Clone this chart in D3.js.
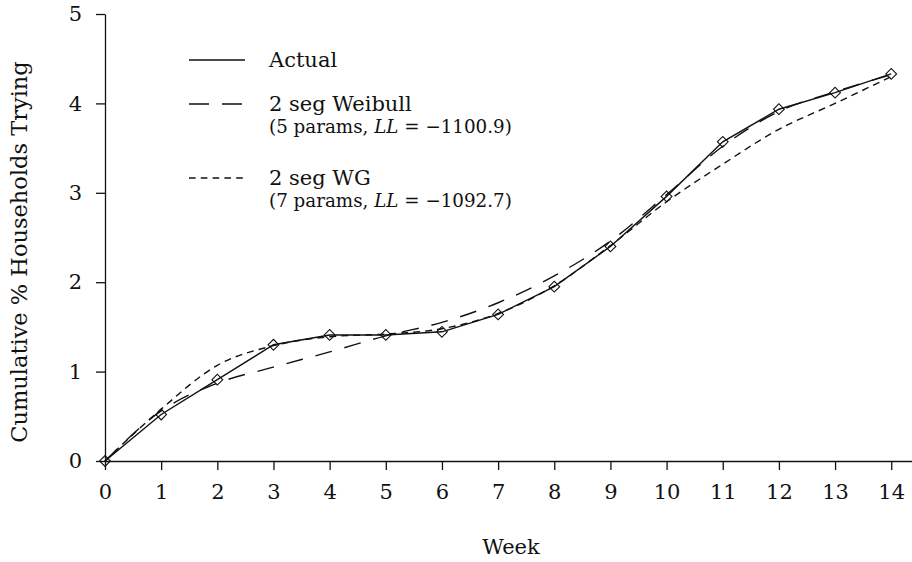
<!DOCTYPE html>
<html>
<head>
<meta charset="utf-8">
<script src="https://cdn.jsdelivr.net/npm/d3@7"></script>
<style>
  html, body { margin: 0; padding: 0; background: #fff; }
  svg { display: block; }
  text { font-family: "DejaVu Serif", serif; fill: #111; }
</style>
</head>
<body>
<svg id="chart" width="912" height="562"></svg>
<script>
// Cumulative trial curve: observed weekly values and two fitted models
const weeks   = [0, 1, 2, 3, 4, 5, 6, 7, 8, 9, 10, 11, 12, 13, 14];
const actual  = [0, 0.52, 0.91, 1.30, 1.41, 1.41, 1.445, 1.64, 1.95, 2.40, 2.96, 3.57, 3.935, 4.12, 4.33];
const weibull = [0, 0.56, 0.87, 1.05, 1.22, 1.40, 1.55, 1.77, 2.07, 2.46, 2.98, 3.52, 3.91, 4.13, 4.32];
const wg      = [0, 0.58, 1.07, 1.29, 1.39, 1.42, 1.48, 1.65, 1.96, 2.41, 2.90, 3.32, 3.71, 4.00, 4.30];

const xTicks = [0, 1, 2, 3, 4, 5, 6, 7, 8, 9, 10, 11, 12, 13, 14];
const yTicks = [0, 1, 2, 3, 4, 5];

const legendItems = [
  { label: "Actual", note: null, dash: null },
  { label: "2 seg Weibull", note: ["(5 params, ", "LL", " = −1100.9)"], dash: "20,13" },
  { label: "2 seg WG", note: ["(7 params, ", "LL", " = −1092.7)"], dash: "6.6,5.2" }
];

const svg = d3.select("#chart");

const x = d3.scaleLinear().domain([0, 14.37]).range([105, 912]);
const y = d3.scaleLinear().domain([0, 5]).range([461, 14]);

const axisStyle = g => {
  g.selectAll("path, line").attr("stroke", "#111").attr("stroke-width", 1.3);
  g.selectAll("text").attr("font-family", "DejaVu Serif").attr("font-size", 21).attr("fill", "#111");
};

svg.append("g")
  .attr("transform", `translate(0,${y(0)})`)
  .call(d3.axisBottom(x).tickValues(xTicks).tickFormat(d3.format("d"))
    .tickSize(9).tickSizeOuter(0).tickPadding(14))
  .call(axisStyle);

svg.append("g")
  .attr("transform", `translate(${x(0)},0)`)
  .call(d3.axisLeft(y).tickValues(yTicks).tickFormat(d3.format("d"))
    .tickSize(9).tickSizeOuter(0).tickPadding(14))
  .call(axisStyle);

// axis titles
svg.append("text")
  .attr("x", 511).attr("y", 554)
  .attr("text-anchor", "middle").attr("font-size", 21)
  .text("Week");

svg.append("text")
  .attr("transform", "translate(27,252) rotate(-90)")
  .attr("text-anchor", "middle").attr("font-size", 22.5)
  .text("Cumulative % Households Trying");

// series lines
const line = vals => d3.line()
  .x((d, i) => x(weeks[i]))
  .y(d => y(d))
  .curve(d3.curveMonotoneX)(vals);

svg.append("path").attr("d", line(weibull))
  .attr("fill", "none").attr("stroke", "#111").attr("stroke-width", 1.4)
  .attr("stroke-dasharray", "17,13");

svg.append("path").attr("d", line(wg))
  .attr("fill", "none").attr("stroke", "#111").attr("stroke-width", 1.4)
  .attr("stroke-dasharray", "7,5");

svg.append("path")
  .attr("d", d3.line().x((d, i) => x(weeks[i])).y(d => y(d))(actual))
  .attr("fill", "none").attr("stroke", "#111").attr("stroke-width", 1.4);

// open diamond markers on the observed values
const diamond = d3.symbol().type(d3.symbolSquare).size(58);
svg.append("g").selectAll("path")
  .data(actual)
  .join("path")
  .attr("d", diamond)
  .attr("transform", (d, i) => `translate(${x(weeks[i])},${y(d)}) rotate(45)`)
  .attr("fill", "none").attr("stroke", "#111").attr("stroke-width", 1.1);

// legend
const lx0 = 189, lx1 = 245, tx = 269;
const rowY = [60, 104, 178];
legendItems.forEach((it, i) => {
  const ly = rowY[i];
  const seg = svg.append("line")
    .attr("x1", lx0).attr("x2", lx1).attr("y1", ly).attr("y2", ly)
    .attr("stroke", "#111").attr("stroke-width", 1.4);
  if (it.dash) seg.attr("stroke-dasharray", it.dash);
  svg.append("text").attr("x", tx).attr("y", ly + 7)
    .attr("font-size", 21).text(it.label);
  if (it.note) {
    const t = svg.append("text").attr("x", tx).attr("y", ly + 29).attr("font-size", 18.3);
    it.note.forEach((s, k) => {
      t.append("tspan").attr("font-style", k === 1 ? "italic" : null).text(s);
    });
  }
});
</script>
</body>
</html>
